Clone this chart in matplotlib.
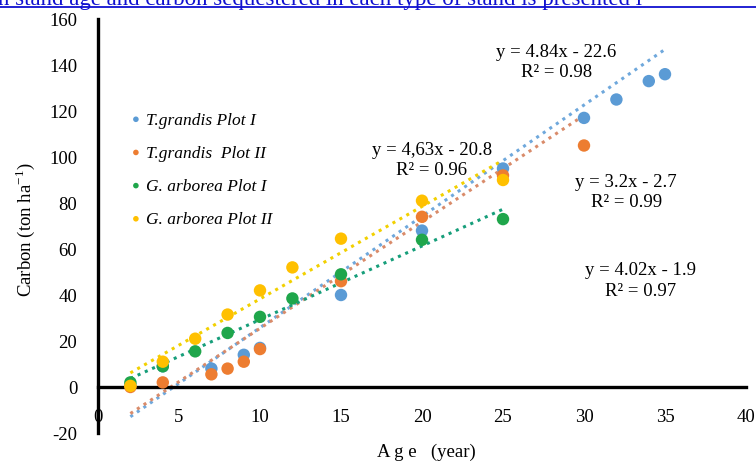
import matplotlib.pyplot as plt
from matplotlib.lines import Line2D
import numpy as np

plt.rcParams['font.family'] = ['Liberation Serif', 'DejaVu Serif']
plt.rcParams['axes.unicode_minus'] = False

# Carbon stock (ton/ha) against stand age (year)
age_tg1 = [2, 4, 7, 9, 10, 15, 20, 25, 30, 32, 34, 35]
carbon_tg1 = [1, 9, 8, 14, 17, 40, 68, 95, 117, 125, 133, 136]

age_tg2 = [2, 4, 7, 8, 9, 10, 15, 20, 25, 30]
carbon_tg2 = [0, 2, 5.5, 8, 11, 16.5, 46, 74, 92, 105]

age_ga1 = [2, 4, 6, 8, 10, 12, 15, 20, 25]
carbon_ga1 = [2, 9, 15.5, 23.5, 30.5, 38.5, 49, 64, 73]

age_ga2 = [2, 4, 6, 8, 10, 12, 15, 20, 25]
carbon_ga2 = [0.5, 11, 21, 31.5, 42, 52, 64.5, 81, 90]

series_names = ["T.grandis Plot I", "T.grandis  Plot II",
                "G. arborea Plot I", "G. arborea Plot II"]
series_ages = [age_tg1, age_tg2, age_ga1, age_ga2]
series_carbon = [carbon_tg1, carbon_tg2, carbon_ga1, carbon_ga2]

# linear trendlines: y = slope*x + intercept
slopes = [4.84, 4.63, 3.2, 4.02]
intercepts = [-22.6, -20.8, -2.7, -1.9]
r2_values = [0.98, 0.96, 0.99, 0.97]
eq_labels = ["y = 4.84x - 22.6", "y = 4,63x - 20.8",
             "y = 3.2x - 2.7", "y = 4.02x - 1.9"]

marker_colors = ["#5B9BD5", "#ED7D31", "#1FA64B", "#FFC000"]
line_colors = ["#6FA8DC", "#D98B6A", "#169E7A", "#F2D000"]

fig = plt.figure(figsize=(7.56, 4.64), dpi=100)
ax = fig.add_axes([98 / 756, 30 / 464, 648 / 756, 414 / 464])

handles = []
for name, xs, ys, mc, lc, m, b in zip(series_names, series_ages, series_carbon,
                                      marker_colors, line_colors, slopes, intercepts):
    xfit = np.linspace(min(xs), max(xs), 50)
    ax.plot(xfit, m * xfit + b, linestyle=(0, (1, 1.6)), color=lc, lw=2.2, zorder=2)
    h = ax.scatter(xs, ys, s=80, color=mc, edgecolors='none', zorder=3, label=name)
    handles.append(h)

# equation boxes (centre positions in data units)
eq_pos = [(28.3, 141.5), (20.6, 99.0), (32.6, 85.0), (33.5, 46.5)]
for lab, r2, (tx, ty) in zip(eq_labels, r2_values, eq_pos):
    ax.text(tx, ty, f"{lab}\nR\u00b2 = {r2:.2f}", ha='center', va='center',
            multialignment='center', fontsize=13.5, linespacing=1.25, zorder=4)

ax.set_xlim(0, 40)
ax.set_ylim(-20, 160)
ax.set_xticks(range(0, 41, 5))
ax.set_yticks(range(-20, 161, 20))
for side in ['top', 'right']:
    ax.spines[side].set_visible(False)
ax.spines['left'].set_position(('data', 0))
ax.spines['bottom'].set_position(('data', 0))
for side in ['left', 'bottom']:
    ax.spines[side].set_linewidth(2.4)
ax.tick_params(axis='both', length=0, labelsize=13.5)
ax.tick_params(axis='x', pad=15)
ax.tick_params(axis='y', pad=15)

fig.text(426 / 756, 1 - 452 / 464, "A g e   (year)", ha='center', va='center', fontsize=13.5)
fig.text(25 / 756, 1 - 230 / 464, "Carbon (ton ha$^{\\mathregular{-1}}$)", rotation=90,
         ha='center', va='center', fontsize=13.5)

leg = ax.legend(handles=handles, loc='upper left', bbox_to_anchor=(122 / 756, 1 - 104 / 464),
                bbox_transform=fig.transFigure, frameon=False, markerscale=0.45,
                handlelength=0.6, handletextpad=0.3, labelspacing=0.98, borderpad=0,
                prop={'style': 'italic', 'size': 12.5})

# running text of the page above the figure
fig.text(-0.002, 1 - 5 / 464, "n stand age and carbon sequestered in each type of stand is presented i",
         ha='left', va='baseline', fontsize=16.5, color='#1010D0')
fig.add_artist(Line2D([0, 1], [1 - 7.5 / 464, 1 - 7.5 / 464], color='#1010D0', lw=1.3,
                      transform=fig.transFigure))

fig.savefig("out.png", dpi=100)
